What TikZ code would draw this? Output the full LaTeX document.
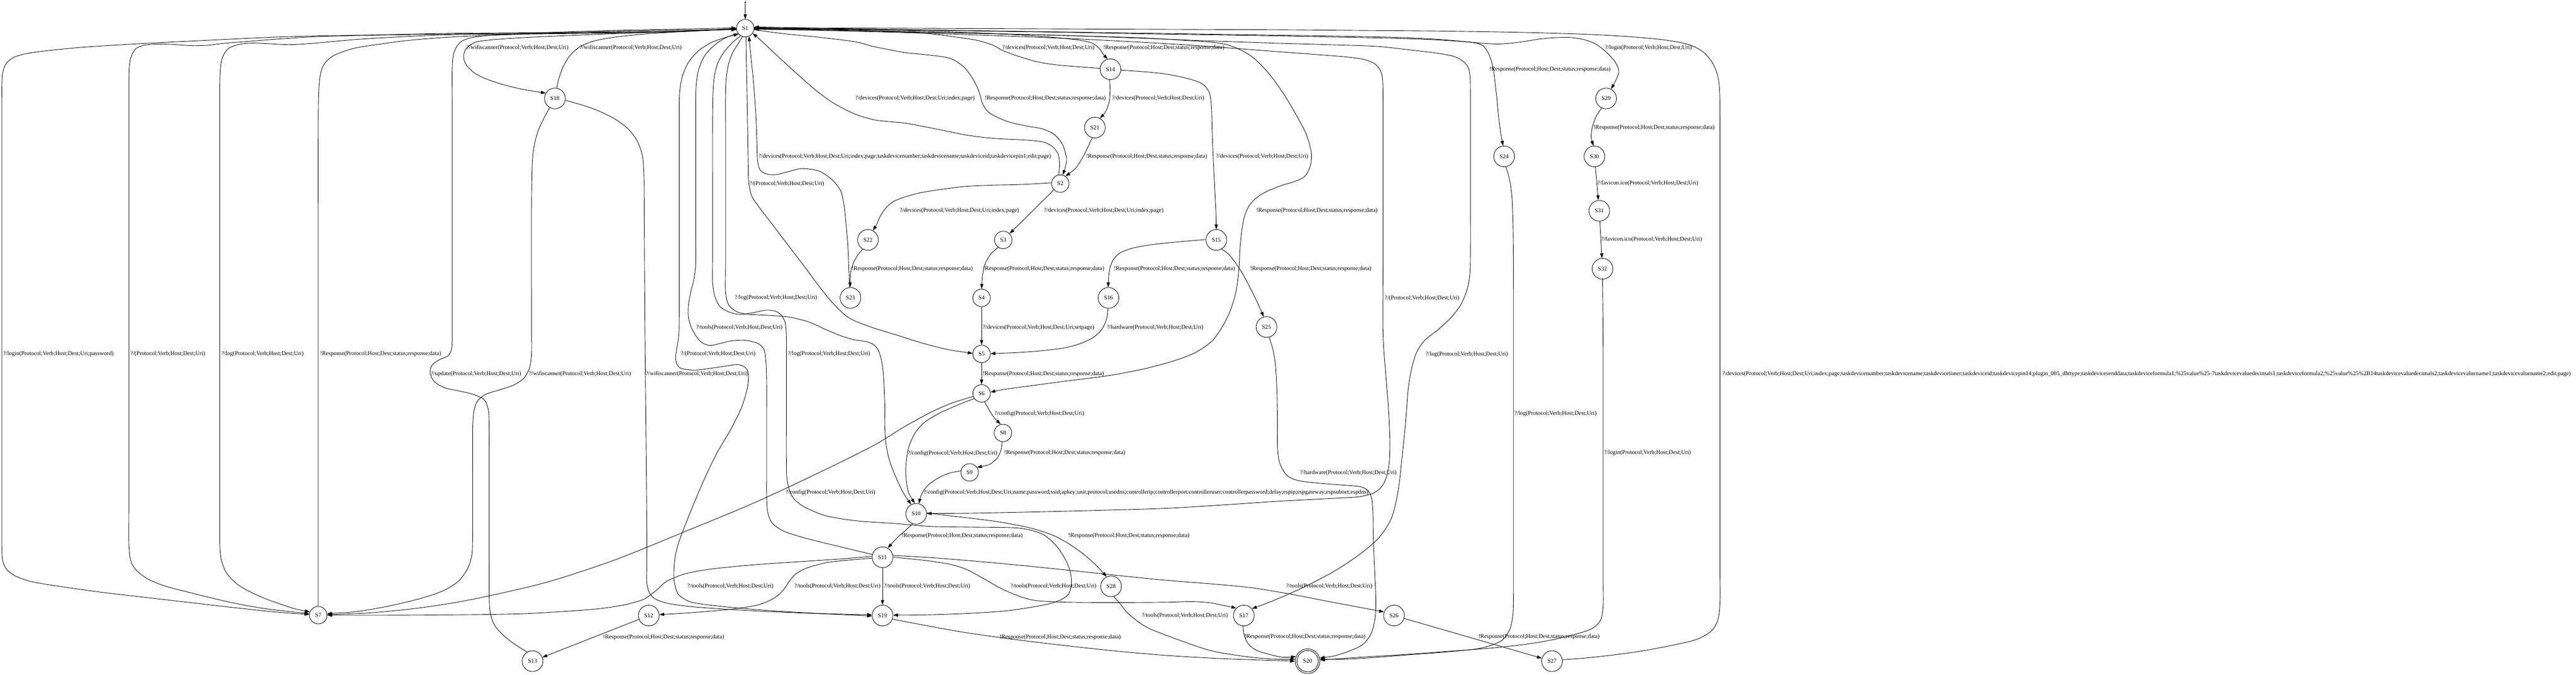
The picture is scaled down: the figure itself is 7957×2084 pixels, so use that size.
\documentclass[tikz,border=0pt]{standalone}
\usepackage{fontspec}
\setmainfont{Liberation Serif}
\usetikzlibrary{arrows.meta}
\newcommand\lblfont{\fontsize{5.12pt}{6pt}\selectfont}
\newcommand\myR{!Response(Protocol;Host;Dest;status;response;data)}
\newcommand\myQ[1]{?/#1(Protocol;Verb;Host;Dest;Uri)}
\begin{document}
\begin{tikzpicture}[x=0.01cm,y=-0.01cm,
  st/.style={draw,circle,line width=0.4pt,inner sep=0pt,minimum size=0.54cm,font=\lblfont},
  stw/.style={st,minimum size=0.64cm},
  e/.style={line width=0.4pt,-{Triangle[length=0.15cm,width=0.1cm]}},
  lb/.style={anchor=west,inner sep=0pt,font=\lblfont},
  sm/.style={smooth,tension=0.5}]
\useasboundingbox (0,0) rectangle (7957,2084);
\fill[white] (0,0) rectangle (7957,2084);
% nodes
\node[circle,fill,inner sep=0pt,minimum size=0.05cm] (init) at (2302,7) {};
\node[st] (S1) at (2302,87) {S1};
\node[stw] (S18) at (1714,304) {S18};
\node[stw] (S14) at (3430,214) {S14};
\node[stw] (S21) at (3382,394) {S21};
\node[st] (S2) at (3275,567) {S2};
\node[stw] (S22) at (2681,741) {S22};
\node[st] (S3) at (3099,741) {S3};
\node[stw] (S15) at (3757,741) {S15};
\node[stw] (S23) at (2627,920) {S23};
\node[st] (S4) at (3032,920) {S4};
\node[stw] (S16) at (3424,920) {S16};
\node[stw] (S24) at (4646,483) {S24};
\node[stw] (S29) at (4961,304) {S29};
\node[stw] (S30) at (4925,483) {S30};
\node[stw] (S31) at (4940,651) {S31};
\node[stw] (S32) at (4950,830) {S32};
\node[stw] (S25) at (3912,1010) {S25};
\node[st] (S5) at (3032,1093) {S5};
\node[st] (S6) at (3032,1215) {S6};
\node[st] (S8) at (3098,1337) {S8};
\node[st] (S9) at (2995,1459) {S9};
\node[stw] (S10) at (2830,1587) {S10};
\node[stw] (S11) at (2726,1721) {S11};
\node[stw] (S28) at (3432,1811) {S28};
\node[st] (S7) at (983,1900) {S7};
\node[stw] (S12) at (2004,1901) {S12};
\node[stw] (S19) at (2726,1901) {S19};
\node[stw] (S17) at (3842,1901) {S17};
\node[stw] (S26) at (4306,1901) {S26};
\node[stw] (S13) at (1645,2042) {S13};
\node[st,minimum size=0.66cm] (S20i) at (4039,2042) {S20};
\node[draw,circle,line width=0.4pt,inner sep=0pt,minimum size=0.76cm] (S20) at (4039,2042) {};
\node[stw] (S27) at (4794,2042) {S27};
% edges
\draw[e] (init) -- (S1);
\draw[e] plot[sm] coordinates {(S1.182) (2100,96) (1900,104) (1750,110) (1620,116) (1530,122) (1470,130) (1440,150) (1432,175) (1440,200) (1465,225) (1500,243) (1550,260) (1610,275) (S18.150)};
\draw[e] plot[sm] coordinates {(S18.80) (1727,240) (1740,205) (1760,172) (1790,145) (1830,128) (1890,116) (1980,106) (2100,98) (S1.185)};
\draw[e] plot[sm] coordinates {(S18.240) (1680,365) (1662,405) (1650,450) (1644,510) (1642,640) (1642,900) (1642,1030) (1642,1090) (1636,1135) (1618,1168) (1585,1190) (1540,1205) (1500,1218) (1474,1240) (1463,1275) (1460,1330) (1460,1460) (1460,1640) (1458,1710) (1445,1755) (1416,1795) (1370,1824) (1300,1848) (1200,1872) (1100,1889) (S7.10)};
\draw[e] plot[sm] coordinates {(S18.350) (1800,325) (1850,343) (1900,368) (1940,398) (1968,435) (1984,480) (1989,540) (1990,680) (1992,1000) (1996,1400) (1998,1620) (1998,1740) (1998,1800) (2008,1835) (2030,1853) (2070,1865) (2140,1874) (2250,1882) (2400,1890) (2550,1896) (S19.183)};
\draw[e] plot[sm] coordinates {(S13.120) (1590,1990) (1555,1962) (1527,1930) (1514,1890) (1511,1830) (1511,1700) (1511,1450) (1511,1330) (1509,1270) (1496,1235) (1462,1218) (1420,1208) (1375,1198) (1343,1180) (1329,1155) (1333,1130) (1355,1112) (1385,1098) (1396,1070) (1397,1010) (1397,880) (1397,600) (1397,330) (1397,210) (1403,160) (1425,128) (1470,114) (1560,106) (1700,100) (1900,94) (2100,90) (S1.178)};
\draw[e] plot[sm] coordinates {(S1.188) (2100,96) (1900,99) (1650,101) (1400,103) (1150,108) (893,113) (650,124) (450,134) (268,145) (160,155) (90,164) (45,176) (20,195) (9,222) (6,260) (6,340) (6,520) (6,900) (6,1300) (6,1560) (6,1680) (8,1730) (22,1760) (50,1780) (100,1797) (191,1812) (320,1830) (510,1852) (700,1874) (850,1890) (S7.175)};
\draw[e] plot[sm] coordinates {(S1.186) (2100,97) (1900,101) (1650,103) (1400,105) (1190,108) (982,113) (840,122) (740,130) (690,134) (640,140) (590,141) (530,137) (482,136) (445,140) (420,150) (405,175) (399,210) (398,260) (398,360) (398,560) (398,900) (398,1300) (398,1560) (398,1680) (405,1735) (425,1765) (460,1790) (510,1810) (570,1826) (638,1843) (720,1862) (820,1880) (S7.170)};
\draw[e] plot[sm] coordinates {(S1.184) (2100,98) (1900,102) (1650,105) (1400,107) (1250,113) (1100,122) (964,134) (893,138) (830,135) (777,133) (735,138) (705,150) (688,175) (681,210) (679,260) (679,360) (679,560) (679,900) (679,1300) (679,1560) (679,1680) (684,1730) (700,1770) (730,1802) (765,1824) (815,1847) (867,1866) (910,1880) (S7.158)};
\draw[e] plot[sm] coordinates {(S7.90) (983,1820) (983,1720) (983,1500) (983,1100) (983,700) (983,420) (984,300) (988,240) (1000,200) (1030,172) (1090,150) (1161,138) (1260,125) (1400,114) (1600,106) (1850,98) (2080,93) (S1.190)};
\draw[e] plot[sm] coordinates {(S1.215) (2240,116) (2200,130) (2160,155) (2128,190) (2108,235) (2099,290) (2098,380) (2098,560) (2098,800) (2098,950) (2097,1030) (2090,1080) (2087,1110) (2100,1136) (2149,1143) (2225,1133) (2280,1126) (2305,1138) (2312,1160) (2308,1200) (2290,1260) (2255,1330) (2214,1400) (2171,1490) (2125,1600) (2095,1680) (2084,1730) (2082,1790) (2095,1835) (2130,1858) (2171,1866) (2260,1876) (2380,1886) (2540,1895) (S19.176)};
\draw[e] plot[sm] coordinates {(S11.165) (2630,1697) (2551,1678) (2480,1660) (2420,1640) (2385,1615) (2371,1580) (2368,1530) (2368,1450) (2368,1300) (2368,1180) (2366,1120) (2360,1080) (2340,1060) (2300,1051) (2258,1053) (2220,1062) (2193,1067) (2168,1058) (2148,1035) (2133,1005) (2126,975) (2127,940) (2134,900) (2144,860) (2149,810) (2149,720) (2149,540) (2149,360) (2150,270) (2158,215) (2178,170) (2210,137) (2245,115) (S1.222)};
\draw[e] plot[sm] coordinates {(S1.238) (2262,132) (2237,160) (2217,195) (2206,240) (2202,300) (2201,400) (2201,600) (2201,800) (2201,870) (2208,915) (2225,948) (2258,966) (2290,971) (2330,965) (2366,958) (2395,961) (2415,975) (2426,1000) (2429,1040) (2429,1120) (2429,1300) (2429,1420) (2431,1480) (2445,1530) (2480,1563) (2551,1593) (2650,1609) (2767,1617) (2876,1626) (3000,1628) (3147,1631) (3220,1650) (3262,1685) (3292,1730) (3307,1771) (3309,1810) (3300,1835) (3278,1852) (3240,1865) (3170,1878) (3093,1888) (2980,1895) (2860,1899) (S19.2)};
\draw[e] plot[sm] coordinates {(S1.252) (2280,135) (2262,165) (2250,200) (2243,245) (2241,300) (2241,400) (2241,600) (2241,820) (2241,900) (2250,940) (2274,962) (2305,970) (2334,972) (2390,975) (2442,980) (2500,995) (2551,1018) (2600,1038) (2637,1049) (2670,1054) (2695,1062) (2712,1080) (2722,1110) (2729,1160) (2733,1250) (2733,1320) (2738,1380) (2750,1430) (2770,1480) (2792,1525) (S10.118)};
\draw[e] plot[sm] coordinates {(S1.275) (2305,170) (2307,260) (2309,380) (2311,500) (2313,565) (2322,605) (2345,640) (2400,712) (2480,817) (2560,922) (2620,980) (2690,1010) (2767,1034) (2850,1060) (2930,1080) (S5.176)};
\draw[e] plot[sm] coordinates {(S23.95) (2622,830) (2619,760) (2614,700) (2608,640) (2597,590) (2570,555) (2534,530) (2500,522) (2472,521) (2435,530) (2400,539) (2370,538) (2348,525) (2340,495) (2338,440) (2335,360) (2328,260) (2320,180) (2316,140) (S1.295)};
\draw[e] plot[sm] coordinates {(S2.100) (3273,505) (3268,475) (3250,452) (3220,438) (3160,432) (3077,428) (2990,418) (2900,400) (2800,381) (2740,375) (2695,369) (2640,352) (2579,321) (2525,283) (2472,237) (2420,190) (2375,148) (2345,120) (S1.325)};
\draw[e] plot[sm] coordinates {(S1.350) (2420,104) (2530,115) (2641,129) (2695,143) (2750,154) (2800,163) (2870,170) (2934,180) (2975,205) (3003,240) (3023,280) (3035,320) (3052,345) (3080,362) (3121,378) (3175,390) (3220,398) (3256,415) (3282,446) (3294,487) (3291,515) (S2.75)};
\draw[e] plot[sm] coordinates {(S14.175) (3330,206) (3260,200) (3200,190) (3140,172) (3095,155) (3068,140) (3020,125) (2950,114) (2870,104) (2780,98) (2650,93) (2500,90) (S1.352)};
\draw[e] plot[sm] coordinates {(S1.0) (2500,89) (2700,92) (2900,97) (3100,105) (3250,115) (3340,125) (3375,134) (3396,150) (3408,168) (S14.105)};
\draw[e] plot[sm] coordinates {(S14.265) (3429,280) (3426,315) (3415,345) (S21.62)};
\draw[e] plot[sm] coordinates {(S21.255) (3360,455) (3345,485) (3322,520) (S2.55)};
\draw[e] plot[sm] coordinates {(S14.355) (3540,222) (3610,230) (3670,243) (3712,258) (3735,285) (3742,330) (3744,400) (3748,500) (3753,600) (3756,660) (S15.90)};
\draw[e] plot[sm] coordinates {(S1.354) (2500,93) (2700,97) (2900,101) (3100,105) (3300,110) (3500,116) (3650,124) (3782,136) (3860,170) (3916,223) (3965,290) (4005,357) (4035,415) (4050,469) (4048,510) (4030,545) (3995,562) (3961,572) (3920,588) (3889,605) (3862,630) (3845,665) (3836,710) (3830,770) (3827,830) (3818,900) (3800,960) (3775,1010) (3742,1055) (3690,1090) (3621,1116) (3526,1141) (3418,1161) (3300,1176) (3180,1192) (3100,1203) (S6.8)};
\draw[e] plot[sm] coordinates {(S2.175) (3150,570) (3060,572) (2979,576) (2900,586) (2840,596) (2790,610) (2757,624) (2734,645) (2718,670) (2708,693) (S22.62)};
\draw[e] (S2) -- (S3);
\draw[e] plot[sm] coordinates {(S22.240) (2648,790) (2635,815) (2627,845) (S23.92)};
\draw[e] plot[sm] coordinates {(S3.235) (3060,785) (3043,815) (3035,850) (S4.90)};
\draw[e] plot[sm] coordinates {(S15.178) (3650,746) (3561,755) (3500,766) (3460,781) (3437,805) (3426,840) (S16.92)};
\draw[e] plot[sm] coordinates {(S15.300) (3795,785) (3815,810) (3838,845) (3862,890) (3882,930) (S25.105)};
\draw[e] (S4) -- (S5);
\draw[e] plot[sm] coordinates {(S16.268) (3418,985) (3405,1015) (3380,1040) (3340,1060) (3290,1074) (3220,1083) (3140,1089) (S5.2)};
\draw[e] (S5) -- (S6);
\draw[e] plot[sm] coordinates {(S6.290) (3055,1265) (3070,1289) (S8.105)};
\draw[e] plot[sm] coordinates {(S6.215) (2960,1250) (2900,1277) (2855,1305) (2825,1340) (2806,1385) (2798,1440) (2800,1490) (2808,1525) (S10.97)};
\draw[e] plot[sm] coordinates {(S8.265) (3092,1390) (3080,1415) (3055,1435) (S9.35)};
\draw[e] plot[sm] coordinates {(S9.170) (2930,1462) (2895,1478) (2865,1500) (2846,1528) (S10.75)};
\draw[e] plot[sm] coordinates {(S6.200) (2940,1245) (2876,1273) (2790,1320) (2700,1375) (2550,1450) (2334,1551) (2120,1640) (1900,1729) (1700,1795) (1531,1836) (1400,1862) (1276,1880) (1140,1893) (S7.3)};
\draw[e] plot[sm] coordinates {(S10.250) (2795,1640) (2770,1662) (S11.60)};
\draw[e] plot[sm] coordinates {(S10.5) (2950,1595) (3020,1603) (3093,1613) (3180,1630) (3250,1652) (3299,1678) (3345,1710) (3385,1745) (S28.115)};
\draw[e] plot[sm] coordinates {(S11.175) (2600,1726) (2480,1734) (2334,1744) (2200,1757) (2117,1772) (2060,1795) (2025,1825) (1990,1850) (1950,1863) (1913,1871) (1850,1880) (1750,1888) (1600,1896) (1400,1899) (1200,1900) (S7.0)};
\draw[e] plot[sm] coordinates {(S11.185) (2620,1730) (2551,1738) (2490,1755) (2455,1775) (2435,1800) (2420,1822) (2399,1842) (2370,1858) (2334,1870) (2270,1880) (2190,1888) (2110,1894) (S12.5)};
\draw[e] (S11) -- (S19);
\draw[e] plot[sm] coordinates {(S11.0) (2850,1730) (2930,1742) (2984,1758) (3040,1788) (3093,1818) (3150,1842) (3201,1855) (3300,1860) (3450,1861) (3600,1860) (3682,1858) (3740,1862) (3780,1870) (S17.135)};
\draw[e] plot[sm] coordinates {(S11.10) (2900,1724) (3100,1741) (3309,1762) (3450,1777) (3600,1792) (3750,1804) (3864,1815) (3970,1832) (4080,1853) (4180,1872) (S26.160)};
\draw[e] (S12) -- (S13);
\draw[e] plot[sm] coordinates {(S19.340) (2850,1930) (2984,1954) (3150,1977) (3309,1996) (3460,2012) (3600,2024) (3750,2033) (3880,2038) (S20.180)};
\draw[e] plot[sm] coordinates {(S28.285) (3460,1865) (3480,1890) (3505,1912) (3530,1930) (3561,1946) (3640,1976) (3742,2010) (3850,2028) (3940,2036) (S20.170)};
\draw[e] plot[sm] coordinates {(S17.265) (3843,1960) (3855,1988) (3880,2008) (3924,2022) (3965,2030) (S20.158)};
\draw[e] (S26) -- (S27);
\draw[e] plot[sm] coordinates {(S25.285) (3932,1080) (3940,1130) (3944,1200) (3946,1300) (3946,1380) (3953,1430) (3975,1468) (4009,1484) (4060,1491) (4106,1495) (4160,1499) (4205,1504) (4228,1518) (4238,1545) (4241,1590) (4242,1662) (4246,1760) (4250,1850) (4248,1905) (4236,1955) (4210,1990) (4170,2010) (4120,2026) (S20.15)};
\draw[e] plot[sm] coordinates {(S1.356) (2500,93) (2700,98) (2900,104) (3100,111) (3300,119) (3500,129) (3700,141) (3900,156) (4060,168) (4160,176) (4215,184) (4248,198) (4265,220) (4271,250) (4272,320) (4272,500) (4272,800) (4272,1030) (4280,1150) (4288,1250) (4293,1350) (4292,1420) (4285,1465) (4270,1500) (4245,1522) (4210,1532) (4179,1536) (4100,1540) (3950,1548) (3800,1558) (3600,1570) (3400,1576) (3200,1581) (3000,1585) (S10.2)};
\draw[e] plot[sm] coordinates {(S1.358) (2500,91) (2700,95) (2900,100) (3100,105) (3300,110) (3500,117) (3700,125) (3900,132) (4100,138) (4250,143) (4345,153) (4430,163) (4490,174) (4520,190) (4536,210) (4541,240) (4542,290) (4542,400) (4542,600) (4542,780) (4540,850) (4530,900) (4510,945) (4478,985) (4440,1020) (4400,1052) (4375,1090) (4360,1140) (4350,1200) (4342,1300) (4330,1420) (4318,1520) (4298,1600) (4260,1660) (4200,1712) (4120,1765) (4030,1812) (3950,1848) (3900,1868) (S17.40)};
\draw[e] plot[sm] coordinates {(S1.2) (2500,89) (2700,91) (2900,94) (3100,97) (3300,100) (3500,104) (3700,107) (3900,110) (4100,114) (4300,118) (4450,124) (4564,134) (4595,160) (4612,210) (4622,290) (4630,370) (4637,420) (S24.95)};
\draw[e] plot[sm] coordinates {(S1.4) (2500,87) (2700,90) (2900,93) (3100,96) (3300,99) (3500,102) (3700,105) (3900,108) (4100,111) (4300,115) (4450,122) (4560,132) (4624,136) (4670,133) (4709,128) (4760,120) (4810,116) (4854,116) (4895,123) (4927,135) (4955,155) (4988,190) (5000,225) (S29.62)};
\draw[e] plot[sm] coordinates {(S29.245) (4930,360) (4918,395) (4915,425) (S30.95)};
\draw[e] (S30) -- (S31);
\draw[e] (S31) -- (S32);
\draw[e] plot[sm] coordinates {(S32.270) (4951,950) (4952,1100) (4952,1350) (4952,1600) (4952,1790) (4952,1870) (4944,1915) (4920,1940) (4880,1955) (4800,1975) (4712,1990) (4600,2002) (4469,2012) (4330,2022) (4200,2030) (S20.5)};
\draw[e] plot[sm] coordinates {(S24.280) (4664,560) (4671,620) (4674,720) (4675,900) (4675,1150) (4675,1400) (4675,1650) (4675,1830) (4673,1900) (4663,1945) (4639,1978) (4600,1995) (4554,2005) (4450,2015) (4330,2024) (4227,2032) (4150,2036) (S20.9)};
\draw[e] plot[sm] coordinates {(S27.8) (4900,2032) (4990,2022) (5075,2010) (5170,1992) (5240,1975) (5285,1950) (5306,1915) (5313,1860) (5313,1760) (5313,1550) (5313,1250) (5313,950) (5313,650) (5313,400) (5312,290) (5306,235) (5290,195) (5266,165) (5235,145) (5194,132) (5130,122) (5030,113) (4900,106) (4700,100) (4450,96) (4200,94) (3950,92) (3700,91) (3450,90) (3200,89) (2950,88) (2700,87) (2500,86) (S1.8)};
% labels
\node[lb] (l2) at (1440,147) {\myQ{wifiscanner}};
\node[lb] (l3) at (1790,147) {\myQ{wifiscanner}};
\node[lb] (l4) at (1633,1155) {\myQ{wifiscanner}};
\node[lb] (l5) at (1994,1155) {\myQ{wifiscanner}};
\node[lb] (l6) at (1330,1155) {\myQ{update}};
\node[lb] (l7) at (9,1093) {?/login(Protocol;Verb;Host;Dest;Uri;password)};
\node[lb] (l8) at (402,1093) {\myQ{}};
\node[lb] (l9) at (683,1093) {\myQ{log}};
\node[lb] (l10) at (988,1093) {\myR};
\node[lb] (l11) at (2102,1093) {\myQ{}};
\node[lb] (l12) at (2150,1011) {\myQ{tools}};
\node[lb] (l13) at (2433,1093) {\myQ{log}};
\node[lb] (l14) at (2269,920) {\myQ{log}};
\node[lb] (l15) at (2314,567) {\myQ{}};
\node[lb] (l16) at (2342,483) {?/devices(Protocol;Verb;Host;Dest;Uri;index;page;taskdevicenumber;taskdevicename;taskdeviceid;taskdevicepin1;edit;page)};
\node[lb] (l17) at (2641,304) {?/devices(Protocol;Verb;Host;Dest;Uri;index;page)};
\node[lb] (l18) at (3041,304) {\myR};
\node[lb] (l19) at (3095,147) {\myQ{devices}};
\node[lb] (l20) at (3407,147) {\myR};
\node[lb] (l21) at (3434,304) {\myQ{devices}};
\node[lb] (l22) at (3354,483) {\myR};
\node[lb] (l23) at (3755,483) {\myQ{devices}};
\node[lb] (l24) at (3880,651) {\myR};
\node[lb] (l25) at (2778,651) {?/devices(Protocol;Verb;Host;Dest;Uri;index;page)};
\node[lb] (l26) at (3224,651) {?/devices(Protocol;Verb;Host;Dest;Uri;index;page)};
\node[lb] (l27) at (2630,831) {\myR};
\node[lb] (l28) at (3036,831) {\myR};
\node[lb] (l29) at (3440,831) {\myR};
\node[lb] (l30) at (3861,831) {\myR};
\node[lb] (l31) at (3035,1011) {?/devices(Protocol;Verb;Host;Dest;Uri;setpage)};
\node[lb] (l32) at (3418,1011) {\myQ{hardware}};
\node[lb] (l33) at (3035,1155) {\myR};
\node[lb] (l34) at (3071,1277) {\myQ{config}};
\node[lb] (l35) at (2803,1400) {\myQ{config}};
\node[lb] (l36) at (3101,1399) {\myR};
\node[lb] (l37) at (2852,1521) {?/config(Protocol;Verb;Host;Dest;Uri;name;password;ssid;apkey;unit;protocol;usedns;controllerip;controllerport;controlleruser;controllerpassword;delay;espip;espgateway;espsubnet;espdns)};
\node[lb] (l38) at (2426,1521) {\myQ{config}};
\node[lb] (l39) at (2784,1654) {\myR};
\node[lb] (l40) at (3299,1654) {\myR};
\node[lb] (l41) at (2122,1811) {\myQ{tools}};
\node[lb] (l42) at (2453,1811) {\myQ{tools}};
\node[lb] (l43) at (2730,1811) {\myQ{tools}};
\node[lb] (l44) at (3120,1811) {\myQ{tools}};
\node[lb] (l45) at (3972,1810) {\myQ{tools}};
\node[lb] (l46) at (1862,1968) {\myR};
\node[lb] (l47) at (3087,1968) {\myR};
\node[lb] (l48) at (3526,1901) {\myQ{tools}};
\node[lb] (l49) at (3843,1967) {\myR};
\node[lb] (l50) at (4566,1967) {\myR};
\node[lb] (l51) at (4015,1460) {\myQ{hardware}};
\node[lb] (l52) at (4276,921) {\myQ{}};
\node[lb] (l53) at (4403,1094) {\myQ{log}};
\node[lb] (l54) at (4600,214) {\myR};
\node[lb] (l55) at (4957,147) {\myQ{login}};
\node[lb] (l56) at (4921,394) {\myR};
\node[lb] (l57) at (4933,566) {\myQ{favicon.ico}};
\node[lb] (l58) at (4945,740) {\myQ{favicon.ico}};
\node[lb] (l59) at (4954,1398) {\myQ{login}};
\node[lb] (l60) at (4677,1277) {\myQ{log}};
\node[lb] (l61) at (5319,1155) {?/devices(Protocol;Verb;Host;Dest;Uri;index;page;taskdevicenumber;taskdevicename;taskdevicetimer;taskdeviceid;taskdevicepin14;plugin\_005\_dhttype;taskdevicesenddata;taskdeviceformula1;\%25value\%25-7taskdevicevaluedecimals1;taskdeviceformula2;\%25value\%25\%2B14taskdevicevaluedecimals2;taskdevicevaluename1;taskdevicevaluename2;edit;page)};
\end{tikzpicture}
\end{document}
